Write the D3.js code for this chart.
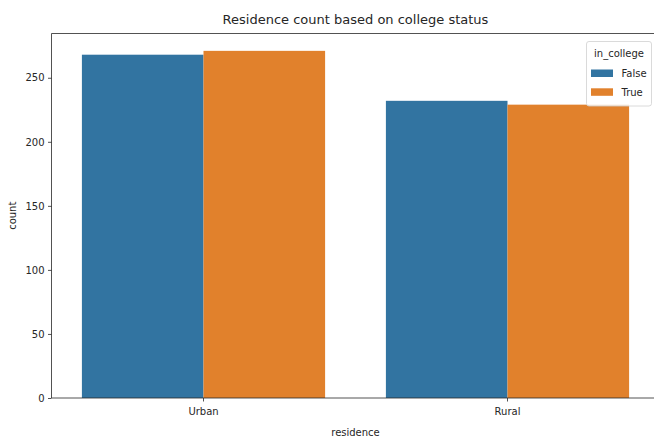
<!DOCTYPE html>
<html><head><meta charset="utf-8">
<script src="https://cdn.jsdelivr.net/npm/d3@7"></script>
<style>body{margin:0;background:#fff;}svg{display:block;font-family:"DejaVu Sans",sans-serif;}</style>
</head><body><div id="chart"></div>
<script>
const categories = ["Urban", "Rural"];
const hueLevels = ["False", "True"];
const valuesFalse = [268, 232];
const valuesTrue = [271, 229];
const yTicks = [0, 50, 100, 150, 200, 250];
const colors = ["#3274a1", "#e1812c"];

const W = 654, H = 441;
const m = {left: 51.5, right: 659.5, top: 33.5, bottom: 398};
const svg = d3.select("#chart").append("svg").attr("width", W).attr("height", H);

const x = d3.scaleBand().domain(categories).range([m.left, m.right]).paddingInner(0).paddingOuter(0);
const xs = d3.scaleBand().domain(hueLevels).range([0.1 * x.bandwidth(), 0.9 * x.bandwidth()]).padding(0);
const ymax = d3.max(valuesFalse.concat(valuesTrue)) * 1.05;
const y = d3.scaleLinear().domain([0, ymax]).range([m.bottom, m.top]);

const data = [];
categories.forEach((c, i) => {
  data.push({cat: c, hue: "False", v: valuesFalse[i], col: colors[0]});
  data.push({cat: c, hue: "True", v: valuesTrue[i], col: colors[1]});
});

svg.append("g").selectAll("rect").data(data).join("rect")
  .attr("x", d => x(d.cat) + xs(d.hue))
  .attr("width", xs.bandwidth())
  .attr("y", d => y(d.v))
  .attr("height", d => y(0) - y(d.v))
  .attr("fill", d => d.col);

// axes
const yAxis = svg.append("g").attr("transform", `translate(${m.left},0)`)
  .call(d3.axisLeft(y).tickValues(yTicks).tickSize(3.5).tickPadding(3.5).tickFormat(d3.format("d")));
const xAxis = svg.append("g").attr("transform", `translate(0,${m.bottom})`)
  .call(d3.axisBottom(x).tickSize(3.5).tickPadding(6));
[yAxis, xAxis].forEach(g => {
  g.select(".domain").remove();
  g.selectAll("line").attr("stroke", "#262626").attr("stroke-width", 0.8);
  g.selectAll("text").attr("font-size", 10).attr("fill", "#262626").attr("font-family", "DejaVu Sans");
});

// spines
const sp = svg.append("g").attr("stroke", "#262626").attr("stroke-width", 0.8).attr("fill", "none");
sp.append("line").attr("x1", m.left).attr("x2", m.left).attr("y1", m.top).attr("y2", m.bottom);
sp.append("line").attr("x1", m.left).attr("x2", m.right).attr("y1", m.bottom).attr("y2", m.bottom);
sp.append("line").attr("x1", m.left).attr("x2", m.right).attr("y1", m.top).attr("y2", m.top);

// labels
svg.append("text").attr("x", (m.left + m.right) / 2).attr("y", 24).attr("text-anchor", "middle")
  .attr("font-size", 13).attr("fill", "#262626").text("Residence count based on college status");
svg.append("text").attr("x", (m.left + m.right) / 2).attr("y", 436).attr("text-anchor", "middle")
  .attr("font-size", 10).attr("fill", "#262626").text("residence");
svg.append("text").attr("transform", `translate(16,${(m.top + m.bottom) / 2}) rotate(-90)`).attr("text-anchor", "middle")
  .attr("font-size", 10).attr("fill", "#262626").text("count");

// legend
const lg = svg.append("g");
lg.append("rect").attr("x", 586.5).attr("y", 41.5).attr("width", 65).attr("height", 64.5).attr("rx", 2.5)
  .attr("fill", "#fff").attr("fill-opacity", 0.8).attr("stroke", "#d0d0d0").attr("stroke-width", 0.8);
lg.append("text").attr("x", 619).attr("y", 56.5).attr("text-anchor", "middle").attr("font-size", 10).attr("fill", "#262626").text("in_college");
hueLevels.forEach((h, i) => {
  const yy = 69.5 + i * 18.8;
  lg.append("rect").attr("x", 591).attr("y", yy).attr("width", 22).attr("height", 7.5).attr("fill", colors[i]);
  lg.append("text").attr("x", 621.5).attr("y", yy + 7.5).attr("font-size", 10).attr("fill", "#262626").text(h);
});
</script></body></html>
